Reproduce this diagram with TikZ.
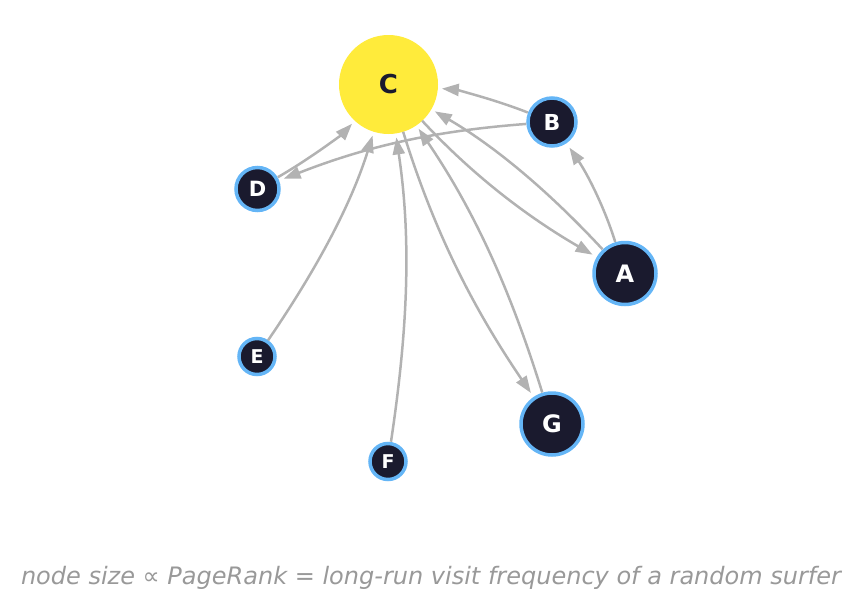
\documentclass[tikz,border=0pt]{standalone}
\usepackage{fontspec}
\setmainfont{DejaVu Sans}
\usetikzlibrary{arrows.meta}
\definecolor{navy}{HTML}{1A1A2E}
\definecolor{ringblue}{HTML}{64B5F6}
\definecolor{sunyellow}{HTML}{FFEB3B}
\definecolor{edgegray}{HTML}{B2B2B2}
\definecolor{notegray}{HTML}{999999}
\tikzset{
  page/.style={circle, fill=navy, draw=ringblue, line width=3.5pt, text=white, inner sep=0pt,
    font=\fontsize{#1}{#1}\selectfont\bfseries},
  hub/.style={circle, fill=sunyellow, text=navy, inner sep=0pt,
    font=\fontsize{26}{26}\selectfont\bfseries},
  link/.style={-{Triangle[length=17pt,width=12pt]}, draw=edgegray, line width=2.5pt, bend right=8.5},
  note/.style={text=notegray, font=\fontsize{24}{24}\selectfont\itshape}
}

\begin{document}
\begin{tikzpicture}[x=1pt,y=-1pt]
          \useasboundingbox (0,0) rectangle (862,613);

          \node[hub, minimum size=99pt] (C) at (388.5,84.5) {C};
          \node[page=22, minimum size=48pt] (B) at (552,122) {B};
          \node[page=21, minimum size=43pt] (D) at (257.5,189) {D};
          \node[page=24, minimum size=62pt] (A) at (625,273.5) {A};
          \node[page=19, minimum size=36pt] (E) at (257,356.5) {E};
          \node[page=24, minimum size=62pt] (G) at (552,424) {G};
          \node[page=19, minimum size=36pt] (F) at (388,461.5) {F};

          % edges run centre to centre, cut back to the rims
          \draw[link, shorten <=26pt, shorten >=53.5pt] (B.center) to (C.center);
          \draw[link, shorten <=23.5pt, shorten >=53.5pt] (D.center) to (C.center);
          \draw[link, shorten <=26pt, shorten >=28pt] (B.center) to (D.center);
          \draw[link, shorten <=33pt, shorten >=31pt] (A.center) to (B.center);
          \draw[link, shorten <=33pt, shorten >=53.5pt] (A.center) to (C.center);
          \draw[link, shorten <=49.5pt, shorten >=37.5pt] (C.center) to (A.center);
          \draw[link, shorten <=19.5pt, shorten >=53.5pt] (E.center) to (C.center);
          \draw[link, shorten <=20pt, shorten >=53.5pt] (F.center) to (C.center);
          \draw[link, shorten <=33pt, shorten >=53.5pt] (G.center) to (C.center);
          \draw[link, shorten <=49.5pt, shorten >=37.5pt] (C.center) to (G.center);

          \node[note] (caption) at (431,578) {node size ∝ PageRank = long-run visit frequency of a random surfer};
        \end{tikzpicture}
\end{document}
